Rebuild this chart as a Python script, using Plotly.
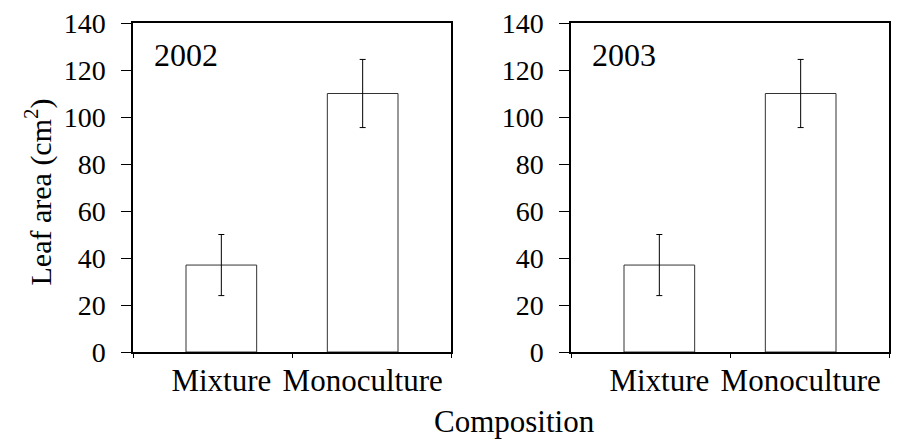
import plotly.graph_objects as go

# Leaf area by plant composition, two seasons
categories = ["Mixture", "Monoculture"]
years = ["2002", "2003"]
leaf_area_2002 = [37, 110]
error_2002 = [13, 14.5]
leaf_area_2003 = [37, 110]
error_2003 = [13, 14.5]
y_ticks = [0, 20, 40, 60, 80, 100, 120, 140]

FONT = "Times New Roman, Liberation Serif, DejaVu Serif, serif"
positions = list(range(len(categories)))

fig = go.Figure()
series = [(leaf_area_2002, error_2002), (leaf_area_2003, error_2003)]
for i, (vals, errs) in enumerate(series):
    ax = "" if i == 0 else str(i + 1)
    fig.add_trace(go.Bar(
        x=positions, y=vals, width=0.5,
        marker=dict(color="white", line=dict(color="#333", width=1)),
        error_y=dict(type="data", array=errs, visible=True,
                     color="black", thickness=1, width=3),
        xaxis="x" + ax, yaxis="y" + ax, showlegend=False,
    ))

xdomains = [[133 / 898, 451 / 898], [571 / 898, 889 / 898]]
ydomain = [1 - 352 / 441, 1 - 23 / 441]

for i in range(2):
    ax = "" if i == 0 else str(i + 1)
    fig.update_layout(**{
        "xaxis" + ax: dict(
            domain=xdomains[i], range=[-0.625, 1.625], automargin=False,
            tickvals=positions, ticktext=categories, ticks="",
            showline=True, linecolor="black", linewidth=1.5, mirror=True,
            showgrid=False, zeroline=False,
            tickfont=dict(family=FONT, size=31, color="black"),
            minor=dict(tickvals=[-0.625, 0.5, 1.625], ticks="outside",
                       ticklen=4, tickcolor="black"),
            anchor="y" + ax,
        ),
        "yaxis" + ax: dict(
            domain=ydomain, range=[0, 140], tickvals=y_ticks, automargin=False,
            ticks="outside", ticklen=10, tickcolor="black",
            showline=True, linecolor="black", linewidth=1.5, mirror=True,
            showgrid=False, zeroline=False, ticklabelstandoff=10,
            tickfont=dict(family=FONT, size=28, color="black"),
            anchor="x" + ax,
        ),
    })
    fig.add_annotation(
        text=years[i], xref="x" + ax + " domain", yref="y" + ax + " domain",
        x=0.06, y=0.965, xanchor="left", yanchor="top", showarrow=False,
        font=dict(family=FONT, size=32, color="black"),
    )

fig.add_annotation(
    text="Leaf area (cm<sup>2</sup>)", xref="paper", yref="paper",
    x=17 / 898, y=1 - 192 / 441, textangle=-90, showarrow=False,
    font=dict(family=FONT, size=30, color="black"),
)
fig.add_annotation(
    text="Composition", xref="paper", yref="paper",
    x=514 / 898, y=0, yanchor="bottom", showarrow=False,
    font=dict(family=FONT, size=31, color="black"),
)

fig.update_layout(
    width=898, height=441, margin=dict(l=0, r=0, t=0, b=0),
    plot_bgcolor="white", paper_bgcolor="white",
)

fig.write_html("out.html")
